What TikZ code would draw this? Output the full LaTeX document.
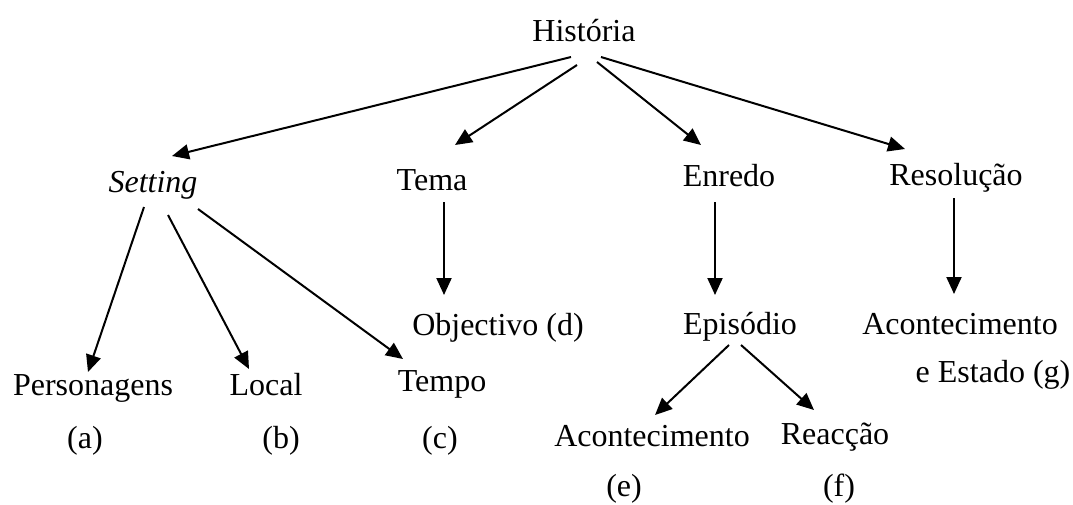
\documentclass[tikz,border=0pt]{standalone}
\usepackage{fontspec}
\setmainfont{Liberation Serif}
\usetikzlibrary{arrows.meta}
\tikzset{
	word/.style={anchor=base, inner sep=0pt, font=\fontsize{32}{38}\selectfont},
	link/.style={line width=2pt, -{Triangle[length=17pt,width=15pt]}},
}
\begin{document}
\begin{tikzpicture}[x=1pt,y=-1pt]
	\useasboundingbox (0,0) rectangle (1073,504);
	\node[word] (hist) at (584,41) {História};
	\node[word] (sett) at (153,192) {\itshape Setting};
	\node[word] (tema) at (432,190) {Tema};
	\node[word] (enre) at (729,186) {Enredo};
	\node[word] (reso) at (956,185) {Resolução};
	\node[word] (pers) at (93,395) {Personagens};
	\node[word] (loc) at (266,395) {Local};
	\node[word] (temp) at (442,391) {Tempo};
	\node[word] (obj) at (498,335) {Objectivo (d)};
	\node[word] (epis) at (740,334) {Episódio};
	\node[word] (acg) at (960,334) {Acontecimento};
	\node[word] (est) at (993,382) {e Estado (g)};
	\node[word] (ace) at (652,446) {Acontecimento};
	\node[word] (reac) at (835,444) {Reacção};
	\node[word] (la) at (85,448) {(a)};
	\node[word] (lb) at (281,448) {(b)};
	\node[word] (lc) at (440,448) {(c)};
	\node[word] (le) at (624,496) {(e)};
	\node[word] (lf) at (839,496) {(f)};

	\draw[link] ([shift={(-13,16)}]hist.base) -- ([shift={(19,-36)}]sett.base);
	\draw[link] ([shift={(-7,24)}]hist.base) -- ([shift={(23,-45)}]tema.base);
	\draw[link] ([shift={(13,21)}]hist.base) -- ([shift={(-28,-41)}]enre.base);
	\draw[link] ([shift={(17,16)}]hist.base) -- ([shift={(-51,-36)}]reso.base);
	\draw[link] ([shift={(-9,15)}]sett.base) -- ([shift={(-5,-23)}]pers.base);
	\draw[link] ([shift={(15,23)}]sett.base) -- ([shift={(-17,-26)}]loc.base);
	\draw[link] ([shift={(45,17)}]sett.base) -- ([shift={(-39,-32)}]temp.base);
	\draw[link] ([shift={(12,12)}]tema.base) -- ([shift={(-54,-40)}]obj.base);
	\draw[link] ([shift={(-14,16)}]enre.base) -- ([shift={(-25,-39)}]epis.base);
	\draw[link] ([shift={(-2,13)}]reso.base) -- ([shift={(-6,-40)}]acg.base);
	\draw[link] ([shift={(-11,11)}]epis.base) -- ([shift={(3,-31)}]ace.base);
	\draw[link] ([shift={(1,11)}]epis.base) -- ([shift={(-21,-34)}]reac.base);
\end{tikzpicture}
\end{document}
